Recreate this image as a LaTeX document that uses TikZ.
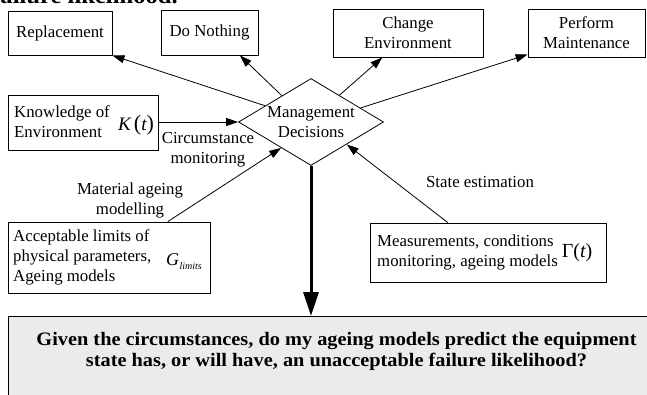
\documentclass[tikz,border=0pt]{standalone}
\usepackage{fontspec}
\setmainfont{Liberation Serif}
\newfontfamily\widebold{Liberation Serif}[FakeStretch=1.07]
\usetikzlibrary{arrows.meta,shapes.geometric,calc}

\definecolor{qgray}{HTML}{EBEBEB}

\begin{document}
\begin{tikzpicture}[x=1pt,y=-1pt,
  box/.style={draw, line width=0.9pt, inner sep=0pt},
  txt/.style={font=\fontsize{16.8}{20}\selectfont, inner sep=0pt},
  ctxt/.style={txt, align=center},
  ltxt/.style={txt, align=left},
  conn/.style={line width=0.8pt, -{Triangle[length=12pt,width=8pt]}},
  bigconn/.style={line width=3pt, -{Triangle[length=24pt,width=15pt]}},
  qtxt/.style={font=\widebold\bfseries\fontsize{19}{21}\selectfont, inner sep=0pt, anchor=base},
]
\useasboundingbox (0,0) rectangle (647,394);
\clip (0,0) rectangle (647,394);

% tail of the preceding line of text
\node[font=\widebold\bfseries\fontsize{23}{23}\selectfont, inner sep=0pt, anchor=base east] (tail) at (178,3) {failure likelihood.};

% decision options
\node[box, ctxt, minimum width=104pt, minimum height=44pt] (rep) at (60,33) {Replacement};
\node[box, ctxt, minimum width=97pt, minimum height=45pt] (dn) at (209.5,32.5) {Do Nothing};
\node[box, ctxt, minimum width=150pt, minimum height=48pt] (ce) at (408,33) {Change\\Environment};
\node[box, ctxt, minimum width=117pt, minimum height=48pt] (pm) at (586.5,33) {Perform\\Maintenance};

% central decision
\node[draw, diamond, line width=0.8pt, inner sep=0pt, minimum width=145pt, minimum height=87pt] (md) at (311,122) {};
\node[ctxt] (mdt) at (311,122) {Management\\Decisions};

% environment knowledge
\node[box, minimum width=150pt, minimum height=55pt] (kb) at (83,122.5) {};
\node[ltxt, anchor=west] (kbt) at (14,122) {Knowledge of\\Environment};
\node[inner sep=0pt] (kbm) at (136,125) {\fontsize{19}{19}\selectfont\itshape K\,{\fontsize{22}{22}\selectfont\upshape(}t{\fontsize{22}{22}\selectfont\upshape)}};

% acceptable limits
\node[box, minimum width=202pt, minimum height=71pt] (al) at (109,257.5) {};
\node[ltxt, anchor=west] (alt) at (13,257) {Acceptable limits of\\physical parameters,\\Ageing models};
\node[inner sep=0pt] (alm) at (184,262) {\fontsize{18}{18}\selectfont\itshape G\kern0.5pt\raisebox{-4pt}{\fontsize{10}{10}\selectfont limits}};

% measurements
\node[box, minimum width=236pt, minimum height=59pt] (me) at (488,252.5) {};
\node[ltxt, anchor=west] (met) at (377,252) {Measurements, conditions\\monitoring, ageing models};
\node[inner sep=0pt] (mem) at (577,253) {\fontsize{20}{20}\selectfont\upshape\symbol{"0393}(\itshape t\upshape)};

% question
\node[draw, line width=0.9pt, fill=qgray, anchor=north west, minimum width=680pt, minimum height=120pt, inner sep=0pt] (q) at (8,316) {};
\node[qtxt] (q1) at (336.5,345) {Given the circumstances, do my ageing models predict the equipment};
\node[qtxt] (q2) at (336.5,366) {state has, or will have, an unacceptable failure likelihood?};

% decisions to options
\draw[conn] ($(md.west)!0.37!(md.north)$) -- (rep.south east);
\draw[conn] ($(md.west)!0.6!(md.north)$) -- ($(dn.south west)!0.81!(dn.south east)$);
\draw[conn] ($(md.north)!0.39!(md.east)$) -- ($(ce.south west)!0.33!(ce.south east)$);
\draw[conn] ($(md.north)!0.68!(md.east)$) -- ($(pm.south west)!0.06!(pm.north west)$);

% inputs to decisions
\draw[conn] (kb.east |- md.west) -- (md.west);
\draw[conn] ($(al.north west)!0.79!(al.north east)$) -- ($(md.west)!0.59!(md.south)$);
\draw[conn] ($(me.north west)!0.33!(me.north east)$) -- ($(md.south)!0.49!(md.east)$);

% outcome
\draw[bigconn] (md.south) -- (md.south |- q.north);

% connector labels
\node[ctxt] (lcm) at (208,150) {Circumstance\\monitoring};
\node[ctxt] (lma) at (130,200) {Material ageing\\modelling};
\node[ctxt] (lse) at (480,182) {State estimation};
\end{tikzpicture}
\end{document}
